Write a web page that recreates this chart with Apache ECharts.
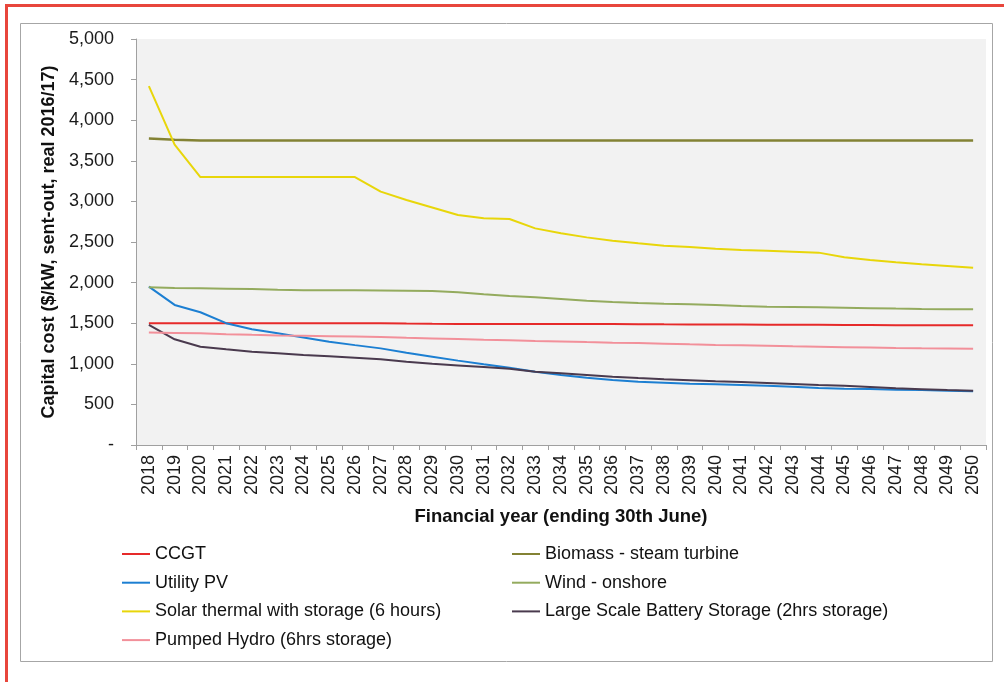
<!DOCTYPE html>
<html>
<head>
<meta charset="utf-8">
<script src="https://cdn.jsdelivr.net/npm/echarts@6/dist/echarts.min.js"></script>
<style>
  html, body { margin: 0; padding: 0; background: #fff; }
  #chart { width: 1004px; height: 682px; }
</style>
</head>
<body>
<div id="chart"></div>
<script>
// financial years
var years = [];
for (var y = 2018; y <= 2050; y++) years.push(String(y));

var ccgt = [1500, 1500, 1500, 1500, 1500, 1500, 1500, 1500, 1500, 1500, 1495, 1492, 1490, 1490, 1490, 1490, 1490, 1490, 1490, 1488, 1486, 1485, 1484, 1483, 1482, 1481, 1480, 1478, 1477, 1476, 1475, 1475, 1475];
var biomass = [3775, 3760, 3750, 3750, 3750, 3750, 3750, 3750, 3750, 3750, 3750, 3750, 3750, 3750, 3750, 3750, 3750, 3750, 3750, 3750, 3750, 3750, 3750, 3750, 3750, 3750, 3750, 3750, 3750, 3750, 3750, 3750, 3750];
var utilityPV = [1950, 1725, 1635, 1500, 1425, 1375, 1325, 1272, 1230, 1190, 1137, 1088, 1039, 994, 952, 903, 862, 829, 800, 780, 768, 755, 747, 739, 731, 718, 702, 694, 690, 681, 677, 669, 661];
var wind = [1942, 1935, 1930, 1925, 1920, 1912, 1907, 1905, 1905, 1903, 1900, 1897, 1880, 1856, 1835, 1819, 1798, 1777, 1761, 1749, 1740, 1732, 1724, 1712, 1703, 1700, 1695, 1690, 1685, 1680, 1676, 1673, 1671];
var solarThermal = [4420, 3700, 3300, 3300, 3300, 3300, 3300, 3300, 3300, 3120, 3017, 2925, 2832, 2792, 2783, 2668, 2607, 2557, 2516, 2484, 2455, 2438, 2418, 2401, 2393, 2381, 2369, 2312, 2278, 2250, 2225, 2204, 2183];
var battery = [1480, 1302, 1211, 1178, 1149, 1129, 1108, 1092, 1075, 1055, 1026, 1000, 980, 960, 940, 903, 883, 862, 841, 825, 810, 798, 785, 775, 765, 752, 740, 730, 715, 700, 688, 677, 668];
var pumpedHydro = [1385, 1380, 1375, 1365, 1357, 1350, 1345, 1340, 1335, 1330, 1320, 1313, 1305, 1297, 1290, 1282, 1275, 1267, 1260, 1255, 1248, 1240, 1233, 1228, 1223, 1215, 1210, 1205, 1200, 1195, 1191, 1188, 1185];

var chart = echarts.init(document.getElementById('chart'));
var font = '"Liberation Sans", Arial, sans-serif';

function line(name, data, color, width) {
    return {
        name: name,
        type: 'line',
        data: data,
        showSymbol: false,
        symbol: 'none',
        lineStyle: { color: color, width: width || 2 },
        itemStyle: { color: color },
        animation: false
    };
}

var legendStyle = {
    orient: 'vertical',
    top: 545,
    padding: 0,
    itemWidth: 28,
    itemHeight: 2,
    itemGap: 10.7,
    icon: 'rect',
    textStyle: { fontFamily: font, fontSize: 18, color: '#111' }
};

var option = {
    backgroundColor: '#fff',
    graphic: [
        {
            type: 'rect',
            shape: { x: 6.5, y: 5.5, width: 1200, height: 900 },
            style: { fill: 'none', stroke: '#e8463c', lineWidth: 3 },
            z: 0
        },
        {
            type: 'rect',
            shape: { x: 20.5, y: 23.5, width: 972, height: 638 },
            style: { fill: 'none', stroke: '#a6a6a6', lineWidth: 1 },
            z: 0
        }
    ],
    legend: [
        Object.assign({ left: 122, data: ['CCGT', 'Utility PV', 'Solar thermal with storage (6 hours)', 'Pumped Hydro (6hrs storage)'] }, legendStyle),
        Object.assign({ left: 512, data: ['Biomass - steam turbine', 'Wind - onshore', 'Large Scale Battery Storage (2hrs storage)'] }, legendStyle)
    ],
    grid: {
        left: 136,
        right: 18,
        top: 39,
        bottom: 237,
        show: true,
        backgroundColor: '#f2f2f2',
        borderWidth: 0
    },
    xAxis: {
        type: 'category',
        data: years,
        boundaryGap: true,
        name: 'Financial year (ending 30th June)',
        nameLocation: 'middle',
        nameGap: 62,
        nameTextStyle: { fontFamily: font, fontSize: 18.5, fontWeight: 'bold', color: '#111' },
        axisLine: { lineStyle: { color: '#a0a0a0' } },
        axisTick: { show: true, length: 5, lineStyle: { color: '#a0a0a0' } },
        axisLabel: { rotate: 90, margin: 10, interval: 0, fontFamily: font, fontSize: 18, color: '#1a1a1a' }
    },
    yAxis: {
        type: 'value',
        min: 0,
        max: 5000,
        interval: 500,
        name: 'Capital cost ($/kW, sent-out, real 2016/17)',
        nameLocation: 'middle',
        nameGap: 78,
        nameTextStyle: { fontFamily: font, fontSize: 18, fontWeight: 'bold', color: '#111' },
        axisLine: { show: true, lineStyle: { color: '#a0a0a0' } },
        axisTick: { show: true, length: 5, lineStyle: { color: '#a0a0a0' } },
        splitLine: { show: false },
        axisLabel: {
            margin: 22,
            fontFamily: font,
            fontSize: 18,
            color: '#1a1a1a',
            formatter: function (v) {
                return v === 0 ? '-' : v.toString().replace(/\B(?=(\d{3})+(?!\d))/g, ',');
            }
        }
    },
    series: [
        line('CCGT', ccgt, '#e62a2a'),
        line('Biomass - steam turbine', biomass, '#838234', 2.5),
        line('Utility PV', utilityPV, '#1c7fd2'),
        line('Wind - onshore', wind, '#94ab5e'),
        line('Solar thermal with storage (6 hours)', solarThermal, '#e8d60a'),
        line('Large Scale Battery Storage (2hrs storage)', battery, '#4a3a4e'),
        line('Pumped Hydro (6hrs storage)', pumpedHydro, '#f2909a')
    ]
};

chart.setOption(option);
</script>
</body>
</html>
